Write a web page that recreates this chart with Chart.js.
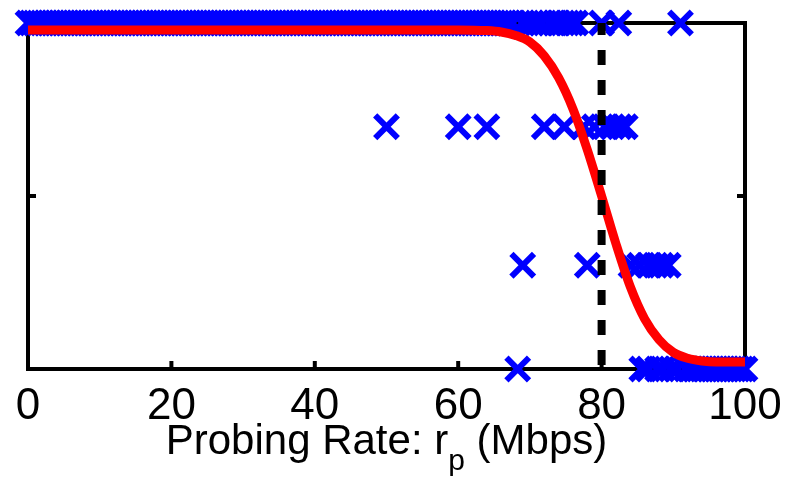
<!DOCTYPE html>
<html>
<head>
<meta charset="utf-8">
<script src="https://cdn.jsdelivr.net/npm/chart.js@4.4.0/dist/chart.umd.min.js"></script>
<style>
    html, body { margin: 0; padding: 0; background: #fff; }
    #wrap { width: 796px; height: 479px; }
</style>
</head>
<body>
<div id="wrap"><canvas id="probeChart"></canvas></div>
<script>
// axis ticks
const xTicks = [0, 20, 40, 60, 80, 100];
const yTicks = [0, 0.5, 1];

// measured outcomes, grouped by level
const levelTop = 1;
const rateTop = [
    0, 0.5, 1, 1.5, 2, 2.5, 3, 3.5, 4, 4.5, 5, 5.5, 6, 6.5, 7, 7.5, 8, 8.5, 9, 9.5,
    10, 10.5, 11, 11.5, 12, 12.5, 13, 13.5, 14, 14.5, 15, 15.5, 16, 16.5, 17, 17.5, 18, 18.5, 19, 19.5,
    20, 20.5, 21, 21.5, 22, 22.5, 23, 23.5, 24, 24.5, 25, 25.5, 26, 26.5, 27, 27.5, 28, 28.5, 29, 29.5,
    30, 30.5, 31, 31.5, 32, 32.5, 33, 33.5, 34, 34.5, 35, 35.5, 36, 36.5, 37, 37.5, 38, 38.5, 39, 39.5,
    40, 40.5, 41, 41.5, 42, 42.5, 43, 43.5, 44, 44.5, 45, 45.5, 46, 46.5, 47, 47.5, 48, 48.5, 49, 49.5,
    50, 50.5, 51, 51.5, 52, 52.5, 53, 53.5, 54, 54.5, 55, 55.5, 56, 56.5, 57, 57.5, 58, 58.5, 59, 59.5,
    60, 60.5, 61, 61.5, 62, 62.5, 63, 63.5, 64, 64.5, 65, 65.5, 66, 66.5, 67, 67.5,
    69, 69.6, 70.3, 71, 71.6, 72.8, 73.5, 74, 74.6, 75.2, 75.8, 76.4,
    80, 82.4, 91
];
const levelHigh = 0.7;
const rateHigh = [50, 60, 64, 72, 74.8, 77.5, 79, 80.5, 81.5, 82.5, 83.3];
const levelLow = 0.3;
const rateLow = [69, 78, 84.1, 85.3, 86.5, 87.5, 88.3, 89.3];
const levelBottom = 0;
const rateBottom = [
    68.3, 85.6, 86.5, 87.8, 88.5, 89.7, 90.5, 91.8, 92.5, 93, 93.5, 94, 94.5,
    95, 95.5, 96, 96.5, 97, 97.5, 98, 98.5, 99, 99.5, 100
];

// fitted curve
const fitX = [0, 60, 64, 66, 68, 70, 72, 74, 76, 78, 80, 82, 84, 86, 88, 90, 92, 94, 96, 100];
const fitY = [0.98, 0.98, 0.978, 0.974, 0.964, 0.945, 0.905, 0.842, 0.752, 0.634, 0.5, 0.362, 0.238, 0.145, 0.085, 0.048, 0.031, 0.023, 0.02, 0.02];

// threshold
const thresholdX = 80;

const FONT = 'Liberation Sans, Arial, Helvetica, sans-serif';

const toPoints = (xs, level) => xs.map(x => ({ x: x, y: level }));
const scatterData = [].concat(
    toPoints(rateTop, levelTop),
    toPoints(rateHigh, levelHigh),
    toPoints(rateLow, levelLow),
    toPoints(rateBottom, levelBottom)
);

// box + inward ticks, matlab style
const framePlugin = {
    id: 'frame',
    beforeDatasetsDraw: (chart) => {
        const { ctx, chartArea: a, scales } = chart;
        ctx.save();
        ctx.strokeStyle = '#000';
        ctx.lineWidth = 4;
        ctx.lineCap = 'butt';
        ctx.strokeRect(a.left, a.top, a.right - a.left, a.bottom - a.top);
        const len = 8;
        ctx.beginPath();
        xTicks.forEach(v => {
            const px = scales.x.getPixelForValue(v);
            ctx.moveTo(px, a.bottom); ctx.lineTo(px, a.bottom - len);
            ctx.moveTo(px, a.top); ctx.lineTo(px, a.top + len);
        });
        yTicks.forEach(v => {
            const py = scales.y.getPixelForValue(v);
            ctx.moveTo(a.left, py); ctx.lineTo(a.left + len, py);
            ctx.moveTo(a.right, py); ctx.lineTo(a.right - len, py);
        });
        ctx.stroke();
        ctx.restore();
    },
    afterDraw: (chart) => {
        // x label with subscript
        const { ctx, chartArea: a } = chart;
        ctx.save();
        ctx.fillStyle = '#000';
        ctx.textBaseline = 'alphabetic';
        ctx.textAlign = 'left';
        const big = '42px ' + FONT;
        const small = '30px ' + FONT;
        const p1 = 'Probing Rate: r', p2 = 'p', p3 = ' (Mbps)';
        ctx.font = big;
        const w1 = ctx.measureText(p1).width, w3 = ctx.measureText(p3).width;
        ctx.font = small;
        const w2 = ctx.measureText(p2).width;
        let x = (a.left + a.right) / 2 - (w1 + w2 + w3) / 2;
        const base = 454;
        ctx.font = big; ctx.fillText(p1, x, base); x += w1;
        ctx.font = small; ctx.fillText(p2, x, base + 16); x += w2;
        ctx.font = big; ctx.fillText(p3, x, base);
        ctx.restore();
    }
};

new Chart(document.getElementById('probeChart'), {
    type: 'scatter',
    data: {
        datasets: [
            {
                label: 'samples',
                data: scatterData,
                pointStyle: 'crossRot',
                pointRadius: 16,
                pointBorderWidth: 6,
                borderColor: '#0000ff',
                backgroundColor: '#0000ff',
                clip: false,
                order: 3
            },
            {
                label: 'fit',
                data: fitX.map((x, i) => ({ x: x, y: fitY[i] })),
                showLine: true,
                borderColor: '#ff0000',
                borderWidth: 9,
                pointRadius: 0,
                cubicInterpolationMode: 'monotone',
                clip: false,
                order: 2
            },
            {
                label: 'threshold',
                data: [{ x: thresholdX, y: 1 }, { x: thresholdX, y: 0 }],
                showLine: true,
                borderColor: '#000',
                borderWidth: 8,
                borderDash: [15, 15],
                borderDashOffset: 3,
                pointRadius: 0,
                clip: false,
                order: 1
            }
        ]
    },
    options: {
        responsive: true,
        maintainAspectRatio: false,
        animation: false,
        events: [],
        layout: { padding: { left: 28, right: 51, top: 23, bottom: 0 } },
        plugins: {
            legend: { display: false },
            tooltip: { enabled: false }
        },
        scales: {
            x: {
                type: 'linear',
                min: 0,
                max: 100,
                afterBuildTicks: (s) => { s.ticks = xTicks.map(v => ({ value: v })); },
                afterFit: (s) => { s.height = 110; },
                grid: { display: false },
                border: { display: false },
                ticks: { color: '#000', padding: 3, font: { family: FONT, size: 44 } }
            },
            y: {
                type: 'linear',
                min: 0,
                max: 1,
                display: false
            }
        }
    },
    plugins: [framePlugin]
});
</script>
</body>
</html>
